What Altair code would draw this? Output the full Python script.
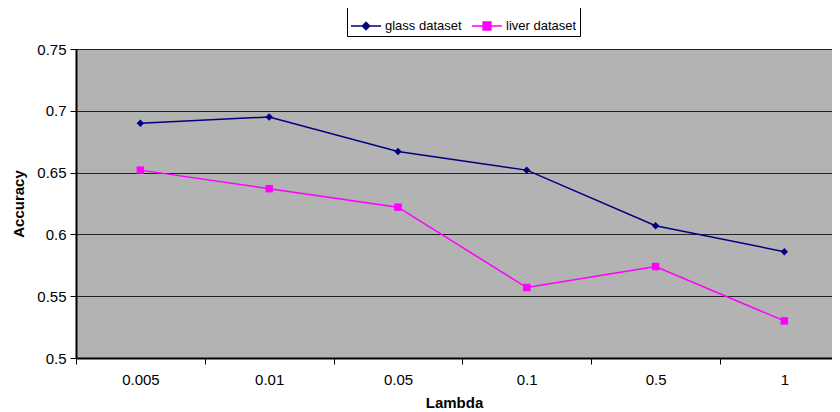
import altair as alt
import pandas as pd

lambdas = ["0.005", "0.01", "0.05", "0.1", "0.5", "1"]
glass = [0.690, 0.695, 0.667, 0.652, 0.607, 0.586]
liver = [0.652, 0.637, 0.622, 0.557, 0.574, 0.530]
series_names = ["glass dataset", "liver dataset"]
colors = ["#000080", "#FF00FF"]
marker_shapes = ["diamond", "square"]

rows = []
for name, vals in zip(series_names, [glass, liver]):
    for i, (lam, v) in enumerate(zip(lambdas, vals)):
        rows.append({"idx": i, "lambda": lam, "accuracy": v, "series": name})
df = pd.DataFrame(rows)

label_expr = "[" + ",".join(f"'{l}'" for l in lambdas) + "][datum.value]"
W, H = 756, 309
dom = [-0.5, 5.37]
half = W / (dom[1] - dom[0]) / 2

FONT = "Liberation Sans"

x = alt.X(
    "idx:Q",
    scale=alt.Scale(domain=dom, nice=False, zero=False),
    axis=alt.Axis(
        title="Lambda", values=list(range(len(lambdas))), labelExpr=label_expr,
        tickOffset=-half, labelOffset=half, grid=False, tickSize=6,
        tickColor="black", domainColor="black", domainWidth=2,
        labelFont=FONT, labelFontSize=15, labelColor="black", labelPadding=8,
        titleFont=FONT, titleFontSize=15, titleFontWeight="bold", titleColor="black",
        titlePadding=8,
    ),
)
y = alt.Y(
    "accuracy:Q",
    scale=alt.Scale(domain=[0.5, 0.75], nice=False, zero=False),
    axis=alt.Axis(
        title="Accuracy", values=[0.5, 0.55, 0.6, 0.65, 0.7, 0.75], format=".2~f",
        grid=True, gridColor="#222222", gridWidth=1, tickSize=6, tickColor="black",
        domainColor="black", domainWidth=2,
        labelFont=FONT, labelFontSize=15, labelColor="black", labelPadding=4,
        titleFont=FONT, titleFontSize=15, titleFontWeight="bold", titleColor="black",
        titlePadding=10,
    ),
)
color_scale = alt.Scale(domain=series_names, range=colors)
legend_paths = [
    "M-1,0H1M-0.24,0L0,-0.24L0.24,0L0,0.24Z",
    "M-1,0H1M-0.26,-0.26H0.26V0.26H-0.26Z",
]

legend = alt.Legend(
    title=None, orient="none", legendX=271, legendY=-42, direction="horizontal",
    strokeColor="black", fillColor="white", padding=3, symbolSize=900,
    symbolStrokeWidth=1.5, symbolOpacity=1, labelFontSize=13, labelFont=FONT,
    labelColor="black", columnPadding=7, labelOffset=3,
)

color_enc = alt.Color("series:N", scale=color_scale, legend=legend)

lines = alt.Chart(df).mark_line(strokeWidth=1.5).encode(
    x=x, y=y, color=color_enc, detail="series:N",
)

marker_layers = []
for name, shp in zip(series_names, marker_shapes):
    marker_layers.append(
        alt.Chart(df).transform_filter(alt.datum.series == name)
        .mark_point(filled=True, size=56, opacity=1, shape=shp)
        .encode(x=x, y=y, color=color_enc)
    )

legend_layer = alt.Chart(df).mark_point(filled=True, opacity=0).encode(
    x=x, y=y,
    color=color_enc,
    stroke=alt.Stroke("series:N", scale=color_scale, legend=legend),
    shape=alt.Shape("series:N", scale=alt.Scale(domain=series_names, range=legend_paths), legend=legend),
)

chart = alt.layer(legend_layer, lines, *marker_layers).properties(
    width=W, height=H, autosize="none",
    padding={"left": 68, "top": 41, "right": 0, "bottom": 54},
    background="white",
).configure_view(fill="#B3B3B3", stroke="black", strokeWidth=1)

chart.save("out.html", embed_options={"renderer": "svg", "actions": False})
